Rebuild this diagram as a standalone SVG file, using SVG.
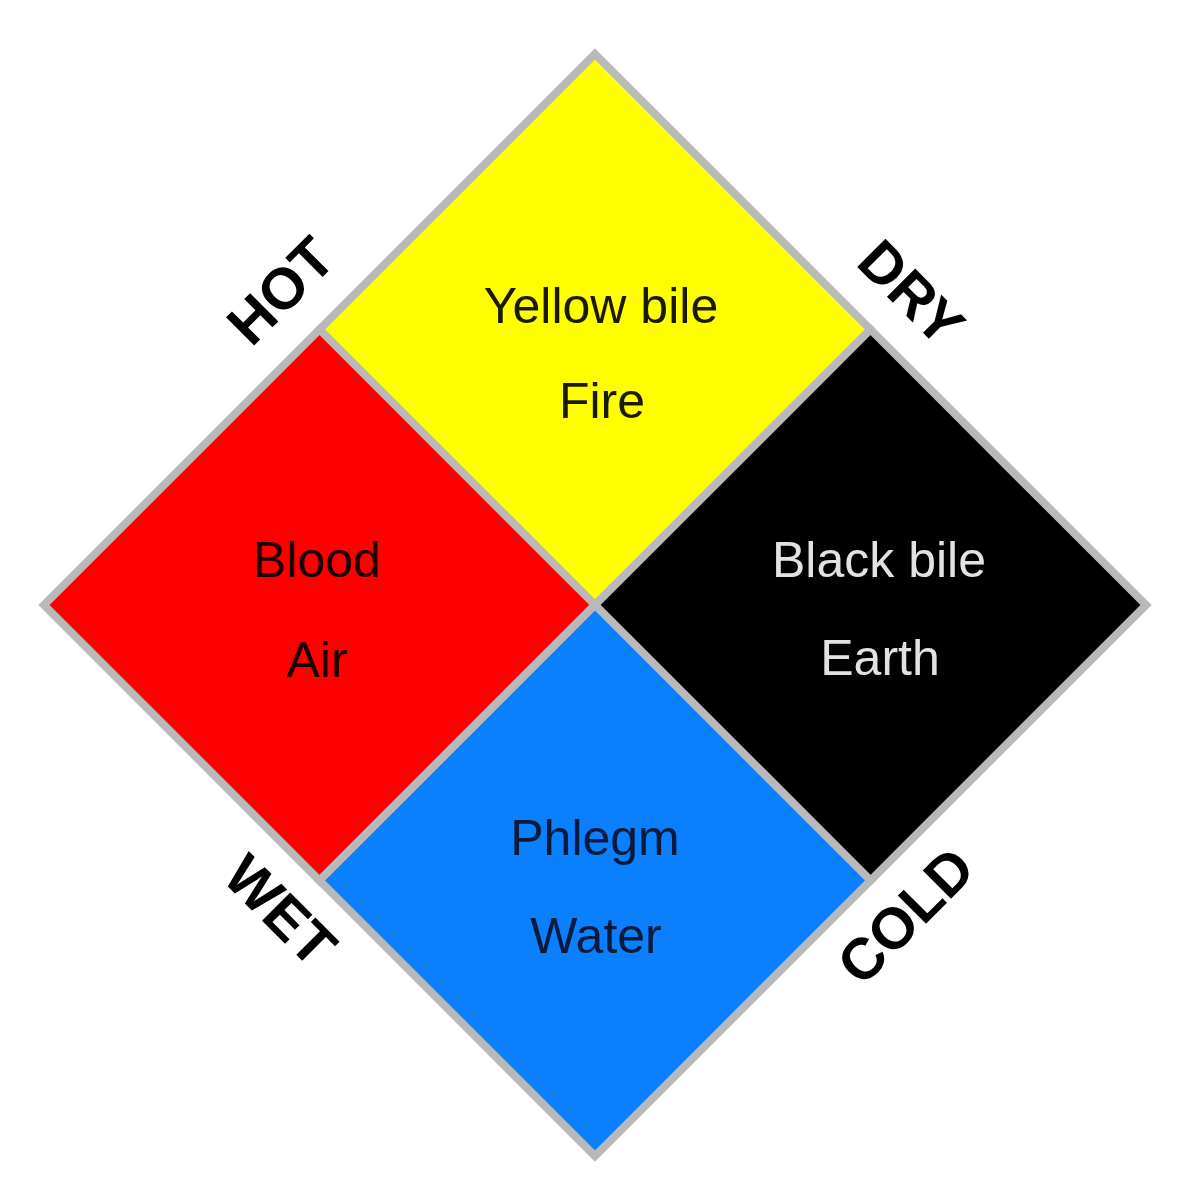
<svg xmlns="http://www.w3.org/2000/svg" width="1195" height="1200" viewBox="0 0 1195 1200">
<style>
.q{stroke:#b9b9b9;stroke-width:8;stroke-linejoin:miter}
.t{font-family:"Liberation Sans",Arial,sans-serif;font-size:50px;text-anchor:middle}
.k{font-family:"Liberation Sans",Arial,sans-serif;font-size:58px;font-weight:bold;text-anchor:middle;fill:#000}
</style>
<rect width="1195" height="1200" fill="#fff"/>
<g id="yellow">
<polygon class="q" fill="#ffff00" points="595,54 870.5,329.5 595,605 319.5,329.5"/>
<text class="t" x="601" y="323" fill="#1a1a00">Yellow bile</text>
<text class="t" x="602" y="418" fill="#1a1a00">Fire</text>
</g>
<g id="red">
<polygon class="q" fill="#ff0000" points="319.5,329.5 595,605 319.5,880.5 44,605"/>
<text class="t" x="317" y="577" fill="#1a0000">Blood</text>
<text class="t" x="317" y="677" fill="#1a0000">Air</text>
</g>
<g id="black">
<polygon class="q" fill="#000000" points="870.5,329.5 1146,605 870.5,880.5 595,605"/>
<text class="t" x="879" y="577" fill="#e2e2e2">Black bile</text>
<text class="t" x="880" y="675" fill="#e2e2e2">Earth</text>
</g>
<g id="blue">
<polygon class="q" fill="#0a80ff" points="595,605 870.5,880.5 595,1156 319.5,880.5"/>
<text class="t" x="595" y="855" fill="#0a1a3a">Phlegm</text>
<text class="t" x="596" y="953" fill="#0a1a3a">Water</text>
</g>
<g id="labels">
<text class="k" transform="rotate(-45 280 290)" x="280" y="311">HOT</text>
<text class="k" transform="rotate(45 912 292)" x="912" y="313">DRY</text>
<text class="k" transform="rotate(45 281 910)" x="281" y="931">WET</text>
<text class="k" transform="rotate(-45 905 915)" x="905" y="936">COLD</text>
</g>
</svg>
